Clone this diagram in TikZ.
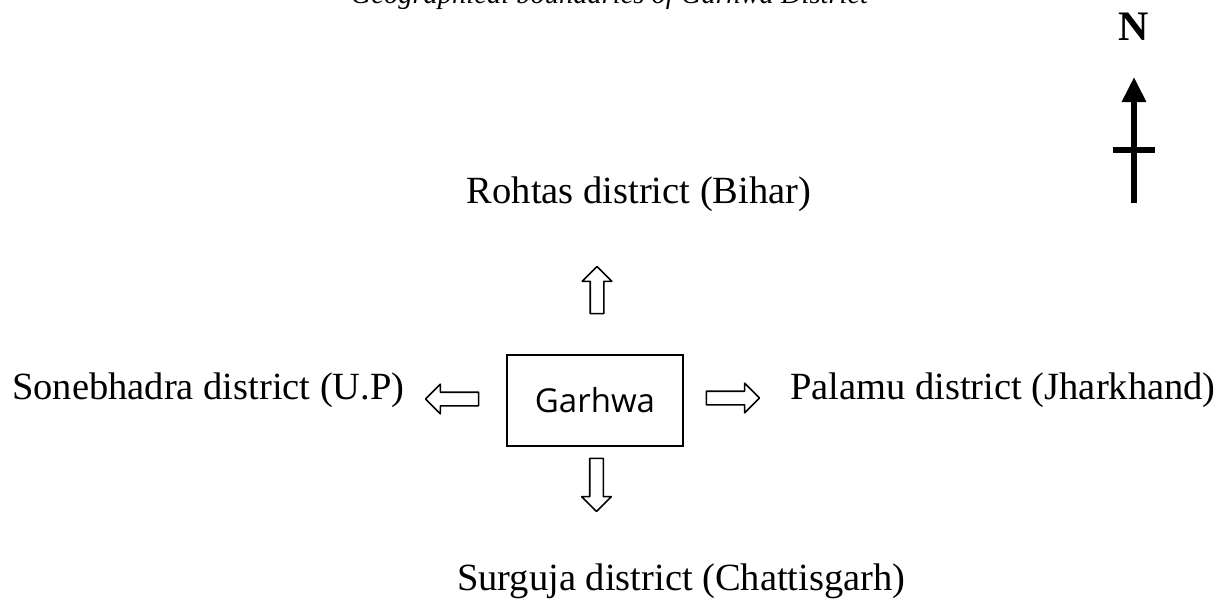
\documentclass[tikz,border=0pt]{standalone}
\usepackage{fontspec}
\setmainfont{Liberation Serif}
\newfontfamily\boxfont{Open Sans}
\usetikzlibrary{shapes.arrows,arrows.meta}
\tikzset{
  lbl/.style={inner sep=0pt, font=\fontsize{38.5}{40}\selectfont},
  blockarrow/.style={single arrow, draw=black, line width=1.6pt, line join=round,
    inner xsep=0pt, inner ysep=6pt, single arrow head extend=8pt,
    minimum width=28pt, fill=white},
  centerbox/.style={draw=black, line width=2pt, minimum width=176pt, minimum height=91pt,
    font=\boxfont\fontsize{33}{35}\selectfont, inner sep=0pt},
  northline/.style={line width=6pt, black}
}
\begin{document}
\begin{tikzpicture}[x=1pt,y=-1pt]
\useasboundingbox (0,0) rectangle (1221,606);
\clip (0,0) rectangle (1221,606);
% caption (cut off at the top)
\node[anchor=base, inner sep=0pt, font=\itshape\fontsize{28.5}{30}\selectfont] (caption) at (609.5,3) {Geographical boundaries of Garhwa District};
% north sign
\node[inner sep=0pt, font=\bfseries\fontsize{42}{44}\selectfont] (north) at (1134,27) {N};
\coordinate (ntip) at (1134,77);
\coordinate (nbot) at (1134,203);
\coordinate (cl) at (1113,150);
\coordinate (cr) at (1155,150);
\draw[northline, -{Triangle[width=23pt,length=25pt]}] (nbot) -- (ntip);
\draw[northline] (cl) -- (cr);
% centre box
\node[centerbox] (garhwa) at (595,400.5) {Garhwa};
% labels
\node[lbl, anchor=base] (rohtas) at (639,203) {Rohtas district (Bihar)};
\node[lbl, anchor=base west] (surguja) at (457,590) {Surguja district (Chattisgarh)};
\node[lbl, anchor=base west] (sone) at (12,399) {Sonebhadra district (U.P)};
\node[lbl, anchor=base west] (palamu) at (790,399) {Palamu district (Jharkhand)};
% block arrows
\node[blockarrow, minimum height=47pt, rotate=90] (aup) at (597,293.5) {};
\node[blockarrow, minimum height=53pt, rotate=-90] (adown) at (596.5,481.5) {};
\node[blockarrow, minimum height=53pt, rotate=180] (aleft) at (455.5,399) {};
\node[blockarrow, minimum height=53pt] (aright) at (729.5,398) {};
\end{tikzpicture}
\end{document}
